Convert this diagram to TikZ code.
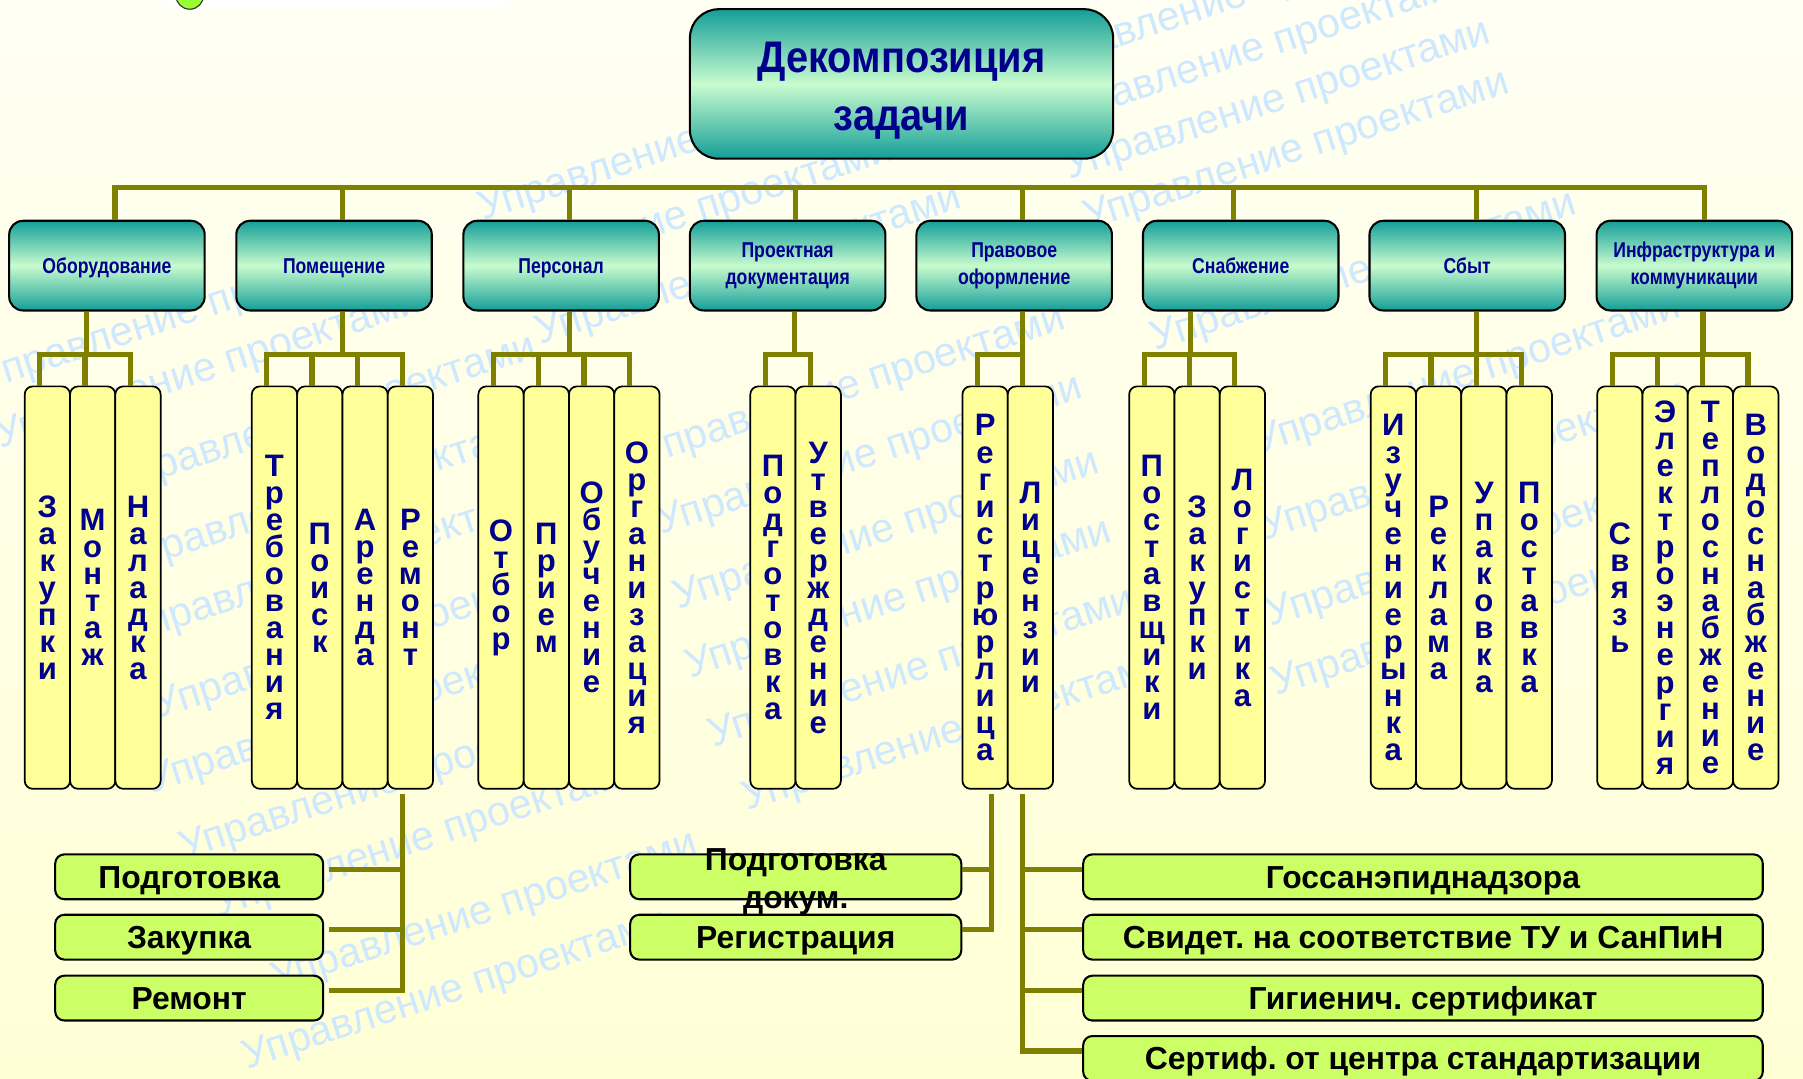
\documentclass[tikz,border=0pt]{standalone}
\usepackage{fontspec}
\setmainfont{Liberation Sans}
\newfontfamily\narrowfont{Liberation Sans}[FakeStretch=0.82]
\newfontfamily\titlefont{Liberation Sans}[FakeStretch=0.9]
\usetikzlibrary{calc}
\frenchspacing
\definecolor{olivel}{RGB}{128,128,0}
\definecolor{tealD}{RGB}{20,158,152}
\definecolor{mint}{RGB}{200,252,206}
\definecolor{navyT}{RGB}{0,0,140}
\definecolor{colY}{RGB}{255,255,153}
\definecolor{gY}{RGB}{204,255,102}
\definecolor{bgTop}{RGB}{255,255,243}
\definecolor{bgBot}{RGB}{255,255,214}
\definecolor{wmblue}{RGB}{205,232,255}
\definecolor{dotG}{RGB}{153,255,51}
\begin{document}
\frenchspacing
\begin{tikzpicture}[x=1pt,y=-1pt,
  ln/.style={draw=olivel, line width=4.5pt},
  hd/.style={draw=black, line width=1.8pt, rounded corners=12pt, minimum width=170pt, minimum height=78pt,
    top color=tealD, bottom color=tealD, middle color=mint, text=navyT, align=center, inner sep=0pt,
    font=\narrowfont\bfseries\fontsize{18.7}{23}\selectfont},
  hdone/.style={hd, text height=13.4pt, text depth=0pt},
  cl/.style={draw=black, line width=1.5pt, rounded corners=7pt, fill=colY, minimum width=39.4pt,
    minimum height=350pt, inner sep=0pt, text=navyT, align=center,
    font=\bfseries\fontsize{27}{23.5}\selectfont},
  gb/.style={draw=black, line width=1.8pt, rounded corners=8pt, fill=gY, minimum height=39pt,
    inner sep=0pt, text=black, font=\bfseries\fontsize{27.7}{33}\selectfont,
    text height=19.8pt, text depth=0pt},
  wm/.style={text=wmblue, font=\fontsize{36}{36}\selectfont, rotate=18, anchor=base west, inner sep=0pt},
]
\useasboundingbox (0,0) rectangle (1568,938);
\shade[top color=bgTop, bottom color=bgBot] (0,0) rectangle (1568,938);
\fill[white] (140,0) rectangle (443,6);
\draw[fill=dotG, draw=black!80, line width=1pt] (165,-4) circle (12);

% watermark
\node[wm] (w1) at (896,66) {Управление проектами};
\node[wm] (w2) at (912,112) {Управление проектами};
\node[wm] (w3) at (930,156) {Управление проектами};
\node[wm] (w4) at (946,200) {Управление проектами};
\node[wm] (w5) at (1005,305) {Управление проектами};
\node[wm] (w6) at (1095,395) {Управление проектами};
\node[wm] (w7) at (1100,470) {Управление проектами};
\node[wm] (w8) at (1105,545) {Управление проектами};
\node[wm] (w9) at (1110,605) {Управление проектами};
\node[wm] (w10) at (420,192) {Управление проектами};
\node[wm] (w11) at (410,258) {Управление проектами};
\node[wm] (w12) at (470,300) {Управление проектами};
\node[wm] (w13) at (560,405) {Управление проектами};
\node[wm] (w14) at (575,465) {Управление проектами};
\node[wm] (w15) at (590,530) {Управление проектами};
\node[wm] (w16) at (600,590) {Управление проектами};
\node[wm] (w17) at (620,650) {Управление проектами};
\node[wm] (w18) at (650,705) {Управление проектами};
\node[wm] (w19) at (-15,340) {Управление проектами};
\node[wm] (w20) at (0,390) {Управление проектами};
\node[wm] (w21) at (100,430) {Управление проектами};
\node[wm] (w22) at (105,500) {Управление проектами};
\node[wm] (w23) at (112,560) {Управление проектами};
\node[wm] (w24) at (138,625) {Управление проектами};
\node[wm] (w25) at (132,690) {Управление проектами};
\node[wm] (w26) at (160,748) {Управление проектами};
\node[wm] (w27) at (190,798) {Управление проектами};
\node[wm] (w28) at (240,862) {Управление проектами};
\node[wm] (w29) at (215,930) {Управление проектами};

% title
\node[hd, minimum width=368pt, minimum height=130pt, rounded corners=25pt] (title) at (784,73) {};
\node[align=center, inner sep=0pt, text=navyT,
  font=\titlefont\bfseries\fontsize{38.5}{50}\selectfont] (titleT) at (784,79) {Декомпозиция\\задачи};

% headings
\node[hdone] (h1) at (93,231) {Оборудование};
\node[hdone] (h2) at (290.5,231) {Помещение};
\node[hdone] (h3) at (488,231) {Персонал};
\node[hd] (h4) at (685,231) {Проектная\\документация};
\node[hd] (h5) at (882,231) {Правовое\\оформление};
\node[hdone] (h6) at (1079,231) {Снабжение};
\node[hdone] (h7) at (1276,231) {Сбыт};
\node[hd] (h8) at (1473.5,231) {Инфраструктура и\\коммуникации};

% bus
\draw[ln] ($(h1.north)+(7,0)$) |- ($(h8.north)+(8.5,-28)$) -- ($(h8.north)+(8.5,0)$);
\draw[ln] ($(h2.north)+(7.5,0)$) -- ++(0,-28);
\draw[ln] ($(h3.north)+(7,0)$) -- ++(0,-28);
\draw[ln] ($(h4.north)+(7,0)$) -- ++(0,-28);
\draw[ln] ($(h5.north)+(7,0)$) -- ++(0,-28);
\draw[ln] ($(h6.north)+(-6,0)$) -- ++(0,-28);
\draw[ln] ($(h7.north)+(8,0)$) -- ++(0,-28);

% columns
\node[cl] (c11) at (41.2,511) {З\\а\\к\\у\\п\\к\\и};
\node[cl] (c12) at (80.6,511) {М\\о\\н\\т\\а\\ж};
\node[cl] (c13) at (120.0,511) {Н\\а\\л\\а\\д\\к\\а};
\node[cl] (c21) at (238.7,511) {Т\\р\\е\\б\\о\\в\\а\\н\\и\\я};
\node[cl] (c22) at (278.1,511) {П\\о\\и\\с\\к};
\node[cl] (c23) at (317.5,511) {А\\р\\е\\н\\д\\а};
\node[cl] (c24) at (356.9,511) {Р\\е\\м\\о\\н\\т};
\node[cl] (c31) at (435.7,511) {О\\т\\б\\о\\р};
\node[cl] (c32) at (475.1,511) {П\\р\\и\\е\\м};
\node[cl] (c33) at (514.5,511) {О\\б\\у\\ч\\е\\н\\и\\е};
\node[cl] (c34) at (553.9,511) {О\\р\\г\\а\\н\\и\\з\\а\\ц\\и\\я};
\node[cl] (c41) at (672.2,511) {П\\о\\д\\г\\о\\т\\о\\в\\к\\а};
\node[cl] (c42) at (711.6,511) {У\\т\\в\\е\\р\\ж\\д\\е\\н\\и\\е};
\node[cl] (c51) at (856.7,511) {Р\\е\\г\\и\\с\\т\\р\\ю\\р\\л\\и\\ц\\а};
\node[cl] (c52) at (896.1,511) {Л\\и\\ц\\е\\н\\з\\и\\и};
\node[cl] (c61) at (1001.7,511) {П\\о\\с\\т\\а\\в\\щ\\и\\к\\и};
\node[cl] (c62) at (1041.1,511) {З\\а\\к\\у\\п\\к\\и};
\node[cl] (c63) at (1080.5,511) {Л\\о\\г\\и\\с\\т\\и\\к\\а};
\node[cl] (c71) at (1211.7,511) {И\\з\\у\\ч\\е\\н\\и\\е\\р\\ы\\н\\к\\а};
\node[cl] (c72) at (1251.1,511) {Р\\е\\к\\л\\а\\м\\а};
\node[cl] (c73) at (1290.5,511) {У\\п\\а\\к\\о\\в\\к\\а};
\node[cl] (c74) at (1329.9,511) {П\\о\\с\\т\\а\\в\\к\\а};
\node[cl] (c81) at (1408.7,511) {С\\в\\я\\з\\ь};
\node[cl] (c82) at (1448.1,511) {Э\\л\\е\\к\\т\\р\\о\\э\\н\\е\\р\\г\\и\\я};
\node[cl] (c83) at (1487.5,511) {Т\\е\\п\\л\\о\\с\\н\\а\\б\\ж\\е\\н\\и\\е};
\node[cl] (c84) at (1526.9,511) {В\\о\\д\\о\\с\\н\\а\\б\\ж\\е\\н\\и\\е};

% group connectors
\draw[ln] ($(h1.south)+(-18,0)$) -- ++(0,39);
\draw[ln] ($(c11.north)+(-6.7,0)$) |- ($(c13.north)+(-6.7,-27)$) -- ($(c13.north)+(-6.7,0)$);
\draw[ln] ($(c12.north)+(-6.7,0)$) -- ++(0,-27);

\draw[ln] ($(h2.south)+(7.5,0)$) -- ++(0,39);
\draw[ln] ($(c21.north)+(-6.7,0)$) |- ($(c24.north)+(-6.7,-27)$) -- ($(c24.north)+(-6.7,0)$);
\draw[ln] ($(c22.north)+(-6.7,0)$) -- ++(0,-27);
\draw[ln] ($(c23.north)+(-6.7,0)$) -- ++(0,-27);

\draw[ln] ($(h3.south)+(7,0)$) -- ++(0,39);
\draw[ln] ($(c31.north)+(-6.7,0)$) |- ($(c34.north)+(-6.7,-27)$) -- ($(c34.north)+(-6.7,0)$);
\draw[ln] ($(c32.north)+(-6.7,0)$) -- ++(0,-27);
\draw[ln] ($(c33.north)+(-6.7,0)$) -- ++(0,-27);

\draw[ln] ($(h4.south)+(6,0)$) -- ++(0,39);
\draw[ln] ($(c41.north)+(-6.7,0)$) |- ($(c42.north)+(-6.7,-27)$) -- ($(c42.north)+(-6.7,0)$);

\draw[ln] ($(h5.south)+(7,0)$) -- ++(0,39);
\draw[ln] ($(c51.north)+(-6.7,0)$) |- ($(c52.north)+(-6.7,-27)$) -- ($(c52.north)+(-6.7,0)$);

\draw[ln] ($(h6.south)+(-44,0)$) -- ++(0,39);
\draw[ln] ($(c61.north)+(-6.7,0)$) |- ($(c63.north)+(-6.7,-27)$) -- ($(c63.north)+(-6.7,0)$);
\draw[ln] ($(c62.north)+(-6.7,0)$) -- ++(0,-27);

\draw[ln] ($(h7.south)+(8,0)$) -- ++(0,39);
\draw[ln] ($(c71.north)+(-6.7,0)$) |- ($(c74.north)+(-6.7,-27)$) -- ($(c74.north)+(-6.7,0)$);
\draw[ln] ($(c72.north)+(-6.7,0)$) -- ++(0,-27);
\draw[ln] ($(c73.north)+(-6.7,0)$) -- ++(0,-27);

\draw[ln] ($(h8.south)+(7.5,0)$) -- ++(0,39);
\draw[ln] ($(c81.north)+(-6.7,0)$) |- ($(c84.north)+(-6.7,-27)$) -- ($(c84.north)+(-6.7,0)$);
\draw[ln] ($(c82.north)+(-6.7,0)$) -- ++(0,-27);
\draw[ln] ($(c83.north)+(-6.7,0)$) -- ++(0,-27);

% bottom boxes
\node[gb, minimum width=233pt] (gPod) at (164.5,762.5) {Подготовка};
\node[gb, minimum width=233pt] (gZak) at (164.5,815) {Закупка};
\node[gb, minimum width=233pt] (gRem) at (164.5,868) {Ремонт};
\node[gb, minimum width=288pt] (gPdd) at (692,762.5) {};
\node[align=center, inner sep=0pt, font=\bfseries\fontsize{27.7}{33}\selectfont] (gPddT) at (692,766.5) {Подготовка\\докум.};
\node[gb, minimum width=288pt] (gReg) at (692,815) {Регистрация};
\node[gb, minimum width=591pt] (gS1) at (1237.5,762.5) {Госсанэпиднадзора};
\node[gb, minimum width=591pt] (gS2) at (1237.5,815) {Свидет. на соответствие ТУ и СанПиН};
\node[gb, minimum width=591pt] (gS3) at (1237.5,868) {Гигиенич. сертификат};
\node[gb, minimum width=591pt] (gS4) at (1237.5,920.5) {Сертиф. от центра стандартизации};

% bottom connectors
\draw[ln] ($(c24.south)+(-6.9,4)$) |- ($(gRem.east)+(4,-6.5)$);
\draw[ln] ($(gPod.east)+(4,-6.5)$) -- ++(65,0);
\draw[ln] ($(gZak.east)+(4,-6.5)$) -- ++(65,0);

\draw[ln] ($(c51.south)+(5.3,4)$) |- ($(gReg.east)+(0,-6.5)$);
\draw[ln] ($(gPdd.east)+(0,-6.5)$) -- ++(26,0);

\draw[ln] ($(c52.south)+(-7.1,4)$) |- ($(gS4.west)+(0,-6.5)$);
\draw[ln] ($(gS1.west)+(0,-6.5)$) -- ++(-53,0);
\draw[ln] ($(gS2.west)+(0,-6.5)$) -- ++(-53,0);
\draw[ln] ($(gS3.west)+(0,-6.5)$) -- ++(-53,0);
\end{tikzpicture}
\end{document}
